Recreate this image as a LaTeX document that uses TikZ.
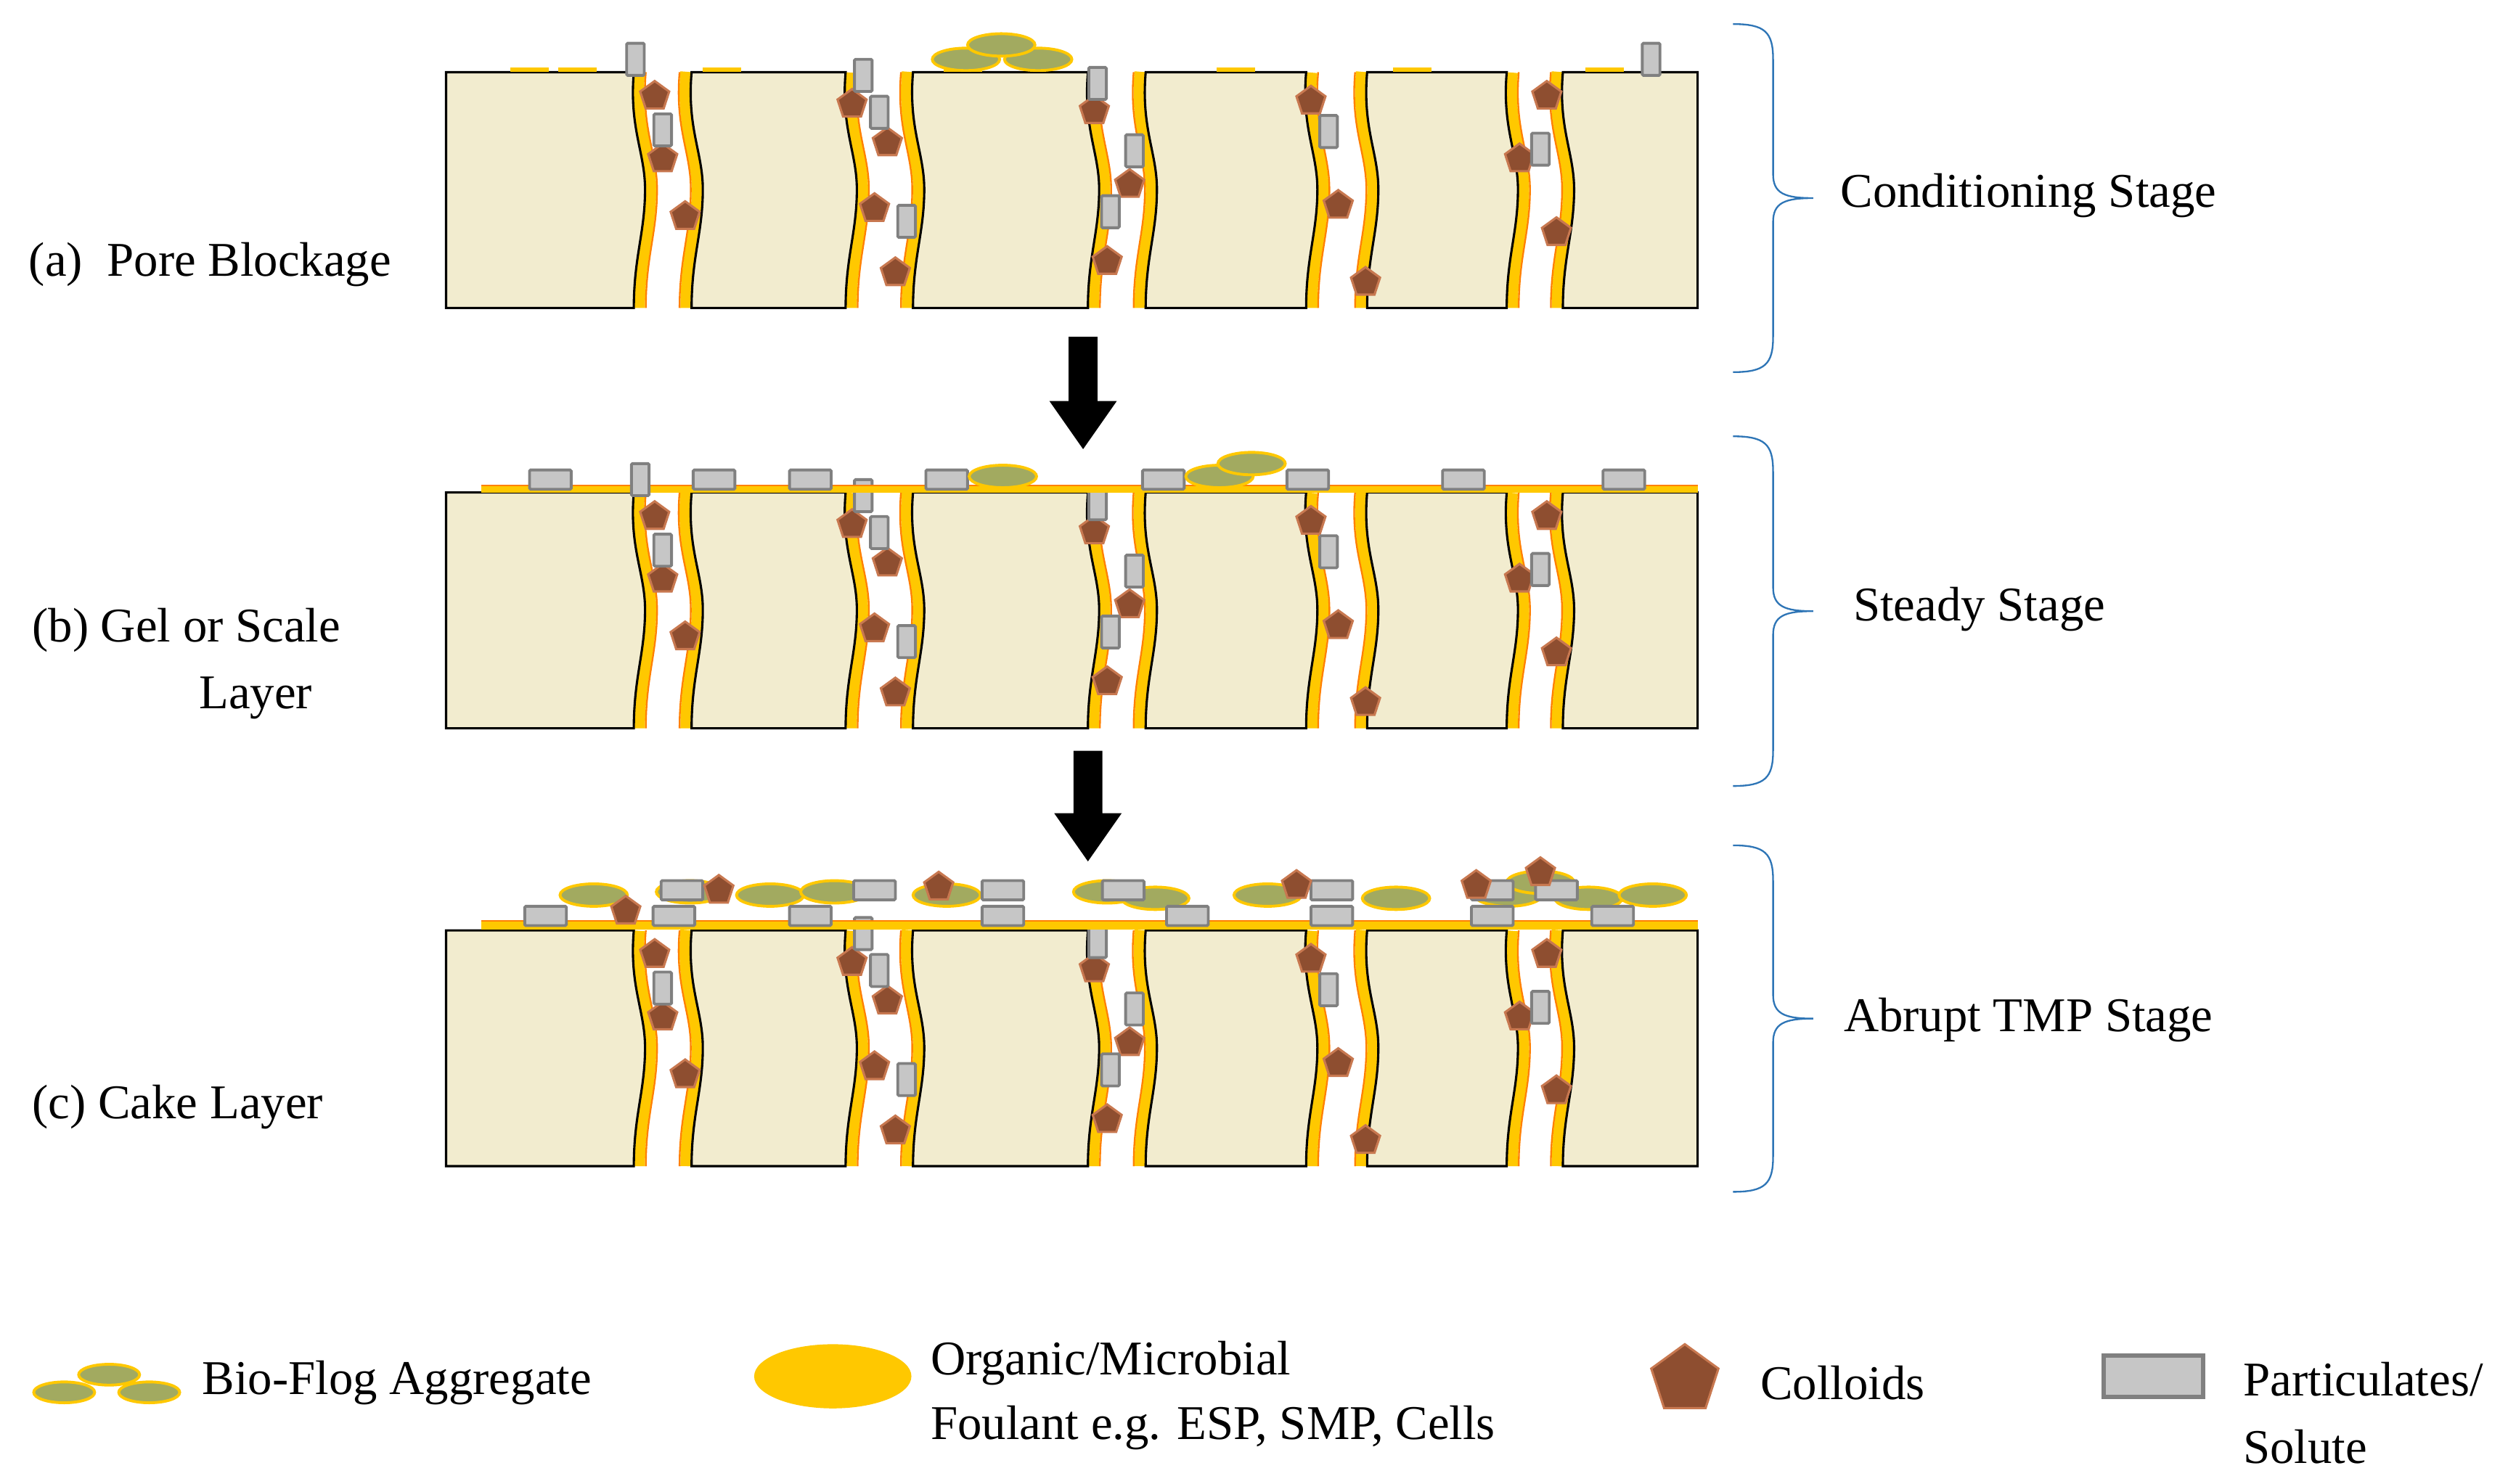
\documentclass[tikz,border=0pt]{standalone}
\usepackage{fontspec}
\setmainfont{Liberation Serif}
\usetikzlibrary{shapes.geometric}
\definecolor{beige}{HTML}{F2ECCF}
\definecolor{fyel}{HTML}{FFC800}
\definecolor{forg}{HTML}{FF8000}
\definecolor{cbrown}{HTML}{8E4E30}
\definecolor{clbrown}{HTML}{C87850}
\definecolor{pgray}{HTML}{C6C6C6}
\definecolor{pdgray}{HTML}{808080}
\definecolor{olive}{HTML}{A2AA60}
\definecolor{bblue}{HTML}{2E75B6}
\def\Sedge#1{(#1,0) .. controls (#1-3,35) and (#1+7,50) .. (#1+7,73) .. controls (#1+7,100) and (#1,115) .. (#1,147)}
\def\Sup#1{(#1,147) .. controls (#1,115) and (#1+7,100) .. (#1+7,73) .. controls (#1+7,50) and (#1-3,35) .. (#1,0)}
\tikzset{
  txt/.style={font=\fontsize{86}{104}\selectfont, inner sep=0pt},
  colloid/.style={regular polygon, regular polygon sides=5, fill=cbrown, draw=clbrown, line width=4pt, minimum size=1.9cm, inner sep=0pt},
  par/.style={rectangle, rounded corners=2pt, fill=pgray, draw=pdgray, line width=5pt, minimum width=1.1cm, minimum height=2.0cm, inner sep=0pt},
  parh/.style={par, minimum width=2.6cm, minimum height=1.2cm},
  floc/.style={ellipse, fill=olive, draw=fyel, line width=5pt, minimum width=4.2cm, minimum height=1.4cm, inner sep=0pt},
  blk/.style={fill=beige, draw=black, line width=4pt},
  foul/.style={draw=fyel, line width=1.4cm},
  forl/.style={draw=forg, line width=3pt},
}
\newcommand\memrow[1]{%
\begin{scope}[shift={(0,#1)}]
 \foreach \g/\h in {395/431,527/569,678/714,814/852,939/974}{
   \draw[foul] \Sedge{\g}; \draw[foul] \Sedge{\h};
   \draw[forl,xshift=0.75cm] \Sedge{\g}; \draw[forl,xshift=-0.75cm] \Sedge{\h};
 }
 \draw[blk] (278,0) -- \Sedge{395} -- (278,147) -- cycle;
 \draw[blk] (431,0) -- \Sedge{527} -- \Sup{431} -- cycle;
 \draw[blk] (569,0) -- \Sedge{678} -- \Sup{569} -- cycle;
 \draw[blk] (714,0) -- \Sedge{814} -- \Sup{714} -- cycle;
 \draw[blk] (852,0) -- \Sedge{939} -- \Sup{852} -- cycle;
 \draw[blk] (1058,0) -- (1058,147) -- \Sup{974} -- cycle;
 \foreach \x/\y in {408/15,413/54,427/90,531/20,553/44,545/85,558/125,682/24,704/70,690/118,817/18,834/83,851/131,964/15,947/54,970/100}
   \node[colloid] at (\x,\y) {};
 \foreach \x/\y in {413/36,538/2,548/25,565/93,684/7,707/49,692/87,828/37,960/48}
   \node[par] at (\x,\y) {};
\end{scope}}
\begin{document}
\begin{tikzpicture}[x=0.1cm,y=-0.1cm]
\useasboundingbox (0,0) rectangle (1568,925);
\memrow{45}
\memrow{307}
\memrow{580}
% row a deposits
\begin{scope}[shift={(0,45)}]
 \foreach \x in {330,360,450,600,770,880,1000}{\fill[fyel] (\x-12,0) rectangle (\x+12,-3);}
 \node[par] at (396,-8) {};
 \node[par] at (1029,-8) {};
 \node[floc] at (602,-8) {};
 \node[floc] at (647,-8) {};
 \node[floc] at (624,-17) {};
\end{scope}
% row b deposits
\begin{scope}[shift={(0,307)}]
 \draw[fyel,line width=0.4cm] (300,-2) -- (1058,-2);
 \draw[forg,line width=3pt] (300,-4.5) -- (1058,-4.5);
 \foreach \x in {343,445,505,590,725,815,912,1012}{\node[parh] at (\x,-8) {};}
 \node[par] at (399,-8) {};
 \node[floc] at (625,-10) {};
 \node[floc] at (760,-10) {};
 \node[floc] at (780,-18) {};
\end{scope}
% row c deposits
\begin{scope}[shift={(0,580)}]
 \draw[fyel,line width=0.5cm] (300,-3) -- (1058,-3);
 \draw[forg,line width=3pt] (300,-6) -- (1058,-6);
 \foreach \x/\y in {370/-22,430/-24,480/-22,520/-24,590/-22,690/-24,720/-20,790/-22,870/-20,940/-22,990/-20,1030/-22,960/-30}{\node[floc] at (\x,\y) {};}
 \foreach \x in {340,420,505,625,740,830,930,1005}{\node[parh] at (\x,-9) {};}
 \foreach \x in {425,545,625,700,830,930,970}{\node[parh] at (\x,-25) {};}
 \foreach \x/\y in {448/-25,585/-27,808/-28,920/-28,960/-36,390/-12}{\node[colloid] at (\x,\y) {};}
\end{scope}
% arrows
\fill (666,210) -- (684,210) -- (684,250) -- (696,250) -- (675,280) -- (654,250) -- (666,250) -- cycle;
\fill (669,468) -- (687,468) -- (687,507) -- (699,507) -- (678,537) -- (657,507) -- (669,507) -- cycle;
% braces
\foreach \a/\b in {15/232,272/490,527/743}{
 \draw[bblue,line width=3pt] (1080,\a) .. controls (1100,\a) and (1105,\a+5) .. (1105,\a+22)
   -- (1105,{(\a+\b)/2-15}) .. controls (1105,{(\a+\b)/2-3}) and (1112,{(\a+\b)/2}) .. (1130,{(\a+\b)/2})
   .. controls (1112,{(\a+\b)/2}) and (1105,{(\a+\b)/2+3}) .. (1105,{(\a+\b)/2+15})
   -- (1105,\b-22) .. controls (1105,\b-5) and (1100,\b) .. (1080,\b);
}
\node[txt,anchor=west] (s1) at (1147,122) {Conditioning Stage};
\node[txt,anchor=west] (s2) at (1155,380) {Steady Stage};
\node[txt,anchor=west] (s3) at (1149,636) {Abrupt TMP Stage};
\node[txt,anchor=west] (l1) at (18,165) {(a)\ \ Pore Blockage};
\node[txt,anchor=west] (l2) at (20,393) {(b) Gel or Scale};
\node[txt,anchor=west] (l2b) at (124,435) {Layer};
\node[txt,anchor=west] (l3) at (20,690) {(c) Cake Layer};
% legend
\node[floc,minimum width=3.8cm,minimum height=1.3cm] (lf1) at (40,868) {};
\node[floc,minimum width=3.8cm,minimum height=1.3cm] (lf2) at (93,868) {};
\node[floc,minimum width=3.8cm,minimum height=1.3cm] (lf3) at (68,857) {};
\node[txt,anchor=west] (t1) at (126,862) {Bio-Flog Aggregate};
\node[ellipse,fill=fyel,minimum width=9.8cm,minimum height=4cm] (ly) at (519,858) {};
\node[txt,anchor=west] (t2) at (580,850) {Organic/Microbial};
\node[txt,anchor=west] (t2b) at (580,890) {Foulant e.g. ESP, SMP, Cells};
\node[colloid,minimum size=4.4cm] (lc) at (1050,860) {};
\node[txt,anchor=west] (t3) at (1097,862) {Colloids};
\node[rectangle,fill=pgray,draw=pdgray,line width=8pt,minimum width=6.2cm,minimum height=2.6cm] (lp) at (1342,858) {};
\node[txt,anchor=west] (t4) at (1398,860) {Particulates/};
\node[txt,anchor=west] (t4b) at (1398,902) {Solute};
\end{tikzpicture}
\end{document}
